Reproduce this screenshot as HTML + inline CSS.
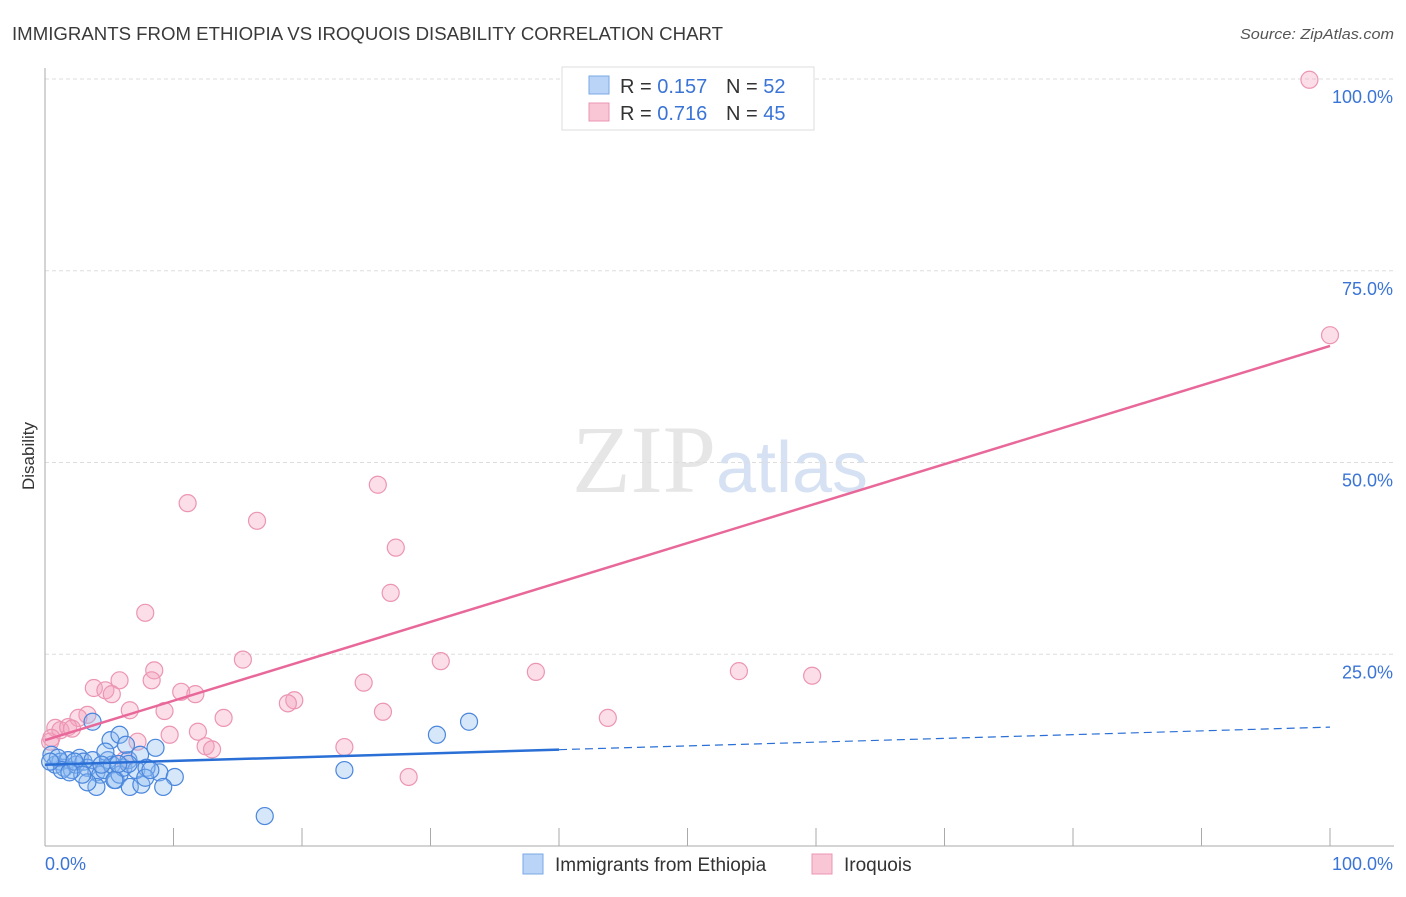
<!DOCTYPE html>
<html><head><meta charset="utf-8"><style>
body{margin:0;background:#fff;font-family:"Liberation Sans",sans-serif}
svg text{font-family:"Liberation Sans",sans-serif}
</style></head><body>
<svg id="c" width="1406" height="892">
<text x="12" y="40" font-size="18" fill="#3a3a3a" textLength="711" lengthAdjust="spacingAndGlyphs">IMMIGRANTS FROM ETHIOPIA VS IROQUOIS DISABILITY CORRELATION CHART</text>
<text x="1394" y="39" font-size="15" fill="#555" text-anchor="end" font-style="italic" textLength="154" lengthAdjust="spacingAndGlyphs">Source: ZipAtlas.com</text>
<text x="34" y="456" font-size="17" fill="#333" text-anchor="middle" transform="rotate(-90 34 456)">Disability</text>
<text x="720" y="492" font-size="96" fill="#e6e6e6" text-anchor="middle" font-family="Liberation Serif"><tspan font-family="Liberation Serif">ZIP</tspan><tspan fill="#d6e2f4" font-family="Liberation Sans" font-size="72">atlas</tspan></text>
<g id="grid"></g><g id="marks"></g>
<g>
<rect x="562" y="67" width="252" height="63" fill="#fff" stroke="#ddd"/>
<rect x="589" y="76" width="20" height="18" fill="#b9d4f6" stroke="#7aa9e6"/>
<rect x="589" y="103" width="20" height="18" fill="#f9c6d6" stroke="#ec95b2"/>
<text x="620" y="93" font-size="20" fill="#333">R = <tspan fill="#3a74d6">0.157</tspan><tspan x="726">N = </tspan><tspan fill="#3a74d6">52</tspan></text>
<text x="620" y="120" font-size="20" fill="#333">R = <tspan fill="#3a74d6">0.716</tspan><tspan x="726">N = </tspan><tspan fill="#3a74d6">45</tspan></text>
</g>
<g>
<rect x="523" y="854" width="20" height="20" fill="#b9d4f6" stroke="#7aa9e6"/>
<text x="555" y="871" font-size="19" fill="#333">Immigrants from Ethiopia</text>
<rect x="812" y="854" width="20" height="20" fill="#f9c6d6" stroke="#ec95b2"/>
<text x="844" y="871" font-size="19" fill="#333">Iroquois</text>
</g>
</svg>
<script>
const blueX=[0.5,0.8,1.2,1.5,1.8,2.1,2.4,2.7,3.0,3.3,3.7,4.0,4.3,4.6,4.9,5.2,5.5,5.8,6.1,6.5,3.7,5.1,5.8,6.3,7.4,8.6,4.7,6.6,7.5,8.9,10.1,9.2,4.0,3.3,5.4,7.1,7.9,6.5,7.8,17.1,23.3,30.5,33.0,1.0,1.3,0.4,2.3,2.9,1.9,5.7,8.2,4.4];
const blueY=[11.9,10.6,11.0,10.2,11.2,9.9,10.6,11.5,11.0,10.2,11.2,9.6,9.3,9.9,11.2,10.6,8.6,9.3,10.2,11.2,16.2,13.8,14.5,13.2,11.9,12.8,12.3,7.7,8.0,9.6,9.0,7.7,7.7,8.3,8.6,9.9,10.2,10.7,8.9,3.9,9.9,14.5,16.2,11.5,9.9,11.0,11.0,9.3,9.6,10.7,9.9,10.6];
const pinkX=[98.4,100,25.9,11.1,16.5,27.3,26.9,7.8,15.4,30.8,38.2,54.0,59.7,8.5,8.3,5.8,3.8,4.7,5.2,10.6,11.7,24.8,19.4,18.9,6.6,9.3,26.3,13.9,43.8,3.3,2.6,0.8,1.2,1.8,2.1,11.9,9.7,7.2,12.5,13.0,23.3,6.2,28.3,0.4,0.5];
const pinkY=[99.9,66.6,47.1,44.7,42.4,38.9,33.0,30.4,24.3,24.1,22.7,22.8,22.2,22.9,21.6,21.6,20.6,20.3,19.8,20.1,19.8,21.3,19.0,18.6,17.7,17.6,17.5,16.7,16.7,17.1,16.7,15.4,15.1,15.5,15.3,14.9,14.5,13.6,13.0,12.6,12.9,11.2,9.0,13.6,14.1];
const blueTrend=[10.6,15.5], blueSolidEnd=40;
const pinkTrend=[13.8,65.2];
const yTicks=[25,50,75,100];
const yTickLabels=["25.0%","50.0%","75.0%","100.0%"];
const xTickLabels=["0.0%","100.0%"];
const NS="http://www.w3.org/2000/svg";
const sx=v=>45+v*12.85, sy=v=>846-v*7.67;
function mk(t,a,p){const e=document.createElementNS(NS,t);for(const k in a)e.setAttribute(k,a[k]);p.appendChild(e);return e;}
const g=document.getElementById('grid'), m=document.getElementById('marks');
yTicks.forEach((v,i)=>{
 const l=mk('line',{x1:45,x2:1394,y1:sy(v),y2:sy(v),stroke:'#ddd','stroke-dasharray':'4,3'},g);
 
 
 const t=mk('text',{x:1393,y:sy(v)+24,'font-size':18,fill:'#3a74d6','text-anchor':'end'},g);t.textContent=yTickLabels[i];
 
 
});
mk('line',{x1:45,x2:45,y1:68,y2:846,stroke:'#aaa'},g);
mk('line',{x1:45,x2:1394,y1:846,y2:846,stroke:'#aaa'},g);
for(let i=0;i<=10;i++){mk('line',{x1:sx(i*10),x2:sx(i*10),y1:828,y2:846,stroke:'#aaa'},g);}
[[0,'start',45],[1,'end',1393]].forEach(([i,a,x])=>{const t=mk('text',{x:x,y:870,'font-size':18,fill:'#3a74d6','text-anchor':a},g);t.textContent=xTickLabels[i];
 
 });
pinkX.forEach((x,i)=>{const c=mk('circle',{cx:sx(x),cy:sy(pinkY[i]),r:8.5,fill:'rgba(244,160,188,0.35)',stroke:'#ec95b2','stroke-width':1.2},m);
 
 });
blueX.forEach((x,i)=>{const c=mk('circle',{cx:sx(x),cy:sy(blueY[i]),r:8.5,fill:'rgba(140,185,240,0.35)',stroke:'#4a86dc','stroke-width':1.2},m);
 
 });
const bl=v=>blueTrend[0]+(blueTrend[1]-blueTrend[0])*v/100;
let e=mk('line',{x1:sx(0),y1:sy(bl(0)),x2:sx(blueSolidEnd),y2:sy(bl(blueSolidEnd)),stroke:'#2a6fd6','stroke-width':2.5},m);


e=mk('line',{x1:sx(blueSolidEnd),y1:sy(bl(blueSolidEnd)),x2:sx(100),y2:sy(bl(100)),stroke:'#2a6fd6','stroke-width':1.2,'stroke-dasharray':'8,5'},m);


e=mk('line',{x1:sx(0),y1:sy(pinkTrend[0]),x2:sx(100),y2:sy(pinkTrend[1]),stroke:'#e8689a','stroke-width':2.5},m);


</script>
</body></html>
